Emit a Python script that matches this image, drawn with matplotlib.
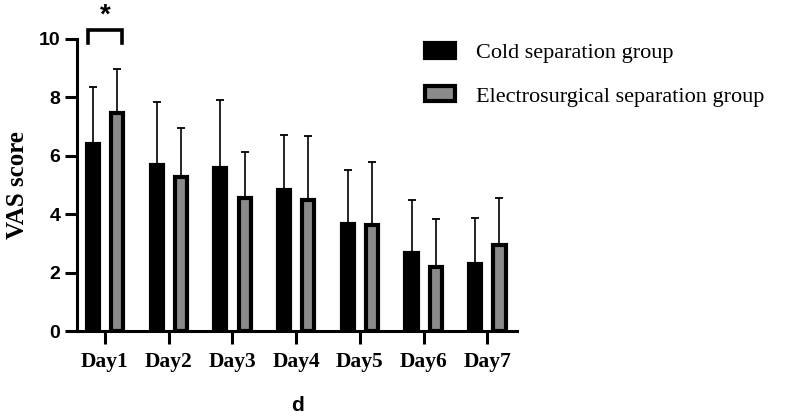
import matplotlib
matplotlib.use('Agg')
import matplotlib.pyplot as plt
import numpy as np

# Data
days = ['Day1', 'Day2', 'Day3', 'Day4', 'Day5', 'Day6', 'Day7']
cold_mean = [6.40, 5.68, 5.58, 4.83, 3.66, 2.68, 2.28]
cold_sd = [1.96, 2.16, 2.33, 1.88, 1.85, 1.82, 1.60]
electro_mean = [7.48, 5.27, 4.54, 4.49, 3.64, 2.18, 2.94]
electro_sd = [1.49, 1.68, 1.59, 2.19, 2.15, 1.65, 1.61]
labels = ['Cold separation group', 'Electrosurgical separation group']

SERIF = 'Liberation Serif'
SANS = 'Liberation Sans'

fig = plt.figure(figsize=(7.92, 4.17), dpi=100)
ax = fig.add_axes([0.0972, 0.206, 0.556, 0.7005])

x = np.arange(len(days))
off = 0.19
w = 0.19

ax.bar(x - off, cold_mean, w, color='black', edgecolor='black', lw=3, label=labels[0], zorder=3)
ax.bar(x + off, electro_mean, w, color='#8a8a8a', edgecolor='black', lw=3, label=labels[1], zorder=3)

zeros = np.zeros(len(days))
ax.errorbar(x - off, cold_mean, yerr=[zeros, cold_sd], fmt='none', ecolor='black',
            elinewidth=1.2, capsize=3, capthick=1.3, zorder=2)
ax.errorbar(x + off, electro_mean, yerr=[zeros, electro_sd], fmt='none', ecolor='black',
            elinewidth=1.2, capsize=3, capthick=1.3, zorder=2)

# significance bracket on Day1
bx = [x[0] - off - 0.07, x[0] - off - 0.07, x[0] + off + 0.07, x[0] + off + 0.07]
ax.plot(bx, [9.85, 10.3, 10.3, 9.85], color='black', lw=2.6, clip_on=False,
        solid_joinstyle='miter')
ax.text(x[0], 10.35, '*', ha='center', va='bottom', fontsize=20, fontweight='bold',
        family=SANS)

ax.set_xlim(-0.44, 6.47)
ax.set_ylim(0, 10)
ax.set_yticks([0, 2, 4, 6, 8, 10])
ax.set_xticks(x)
ax.set_xticklabels(days, family=SERIF, fontweight='bold', fontsize=15.5)
for t in ax.get_yticklabels():
    t.set_family(SANS)
    t.set_fontweight('bold')
    t.set_fontsize(14)

for s in ['top', 'right']:
    ax.spines[s].set_visible(False)
for s in ['left', 'bottom']:
    ax.spines[s].set_linewidth(2.2)
ax.tick_params(axis='both', direction='out', length=9, width=2.2)
ax.tick_params(axis='x', pad=6)
ax.tick_params(axis='y', pad=3)

ax.set_ylabel('VAS score', family=SERIF, fontweight='bold', fontsize=18, labelpad=7)
ax.set_xlabel('d', family=SANS, fontweight='bold', fontsize=15, labelpad=17)

leg = ax.legend(loc='upper left', bbox_to_anchor=(0.745, 1.055), frameon=False,
                prop={'family': SERIF, 'size': 16}, handlelength=1.35, handleheight=0.65,
                labelspacing=1.05, handletextpad=0.95)
for h in leg.legend_handles:
    h.set_linewidth(3)

fig.savefig('out.png', dpi=100)
